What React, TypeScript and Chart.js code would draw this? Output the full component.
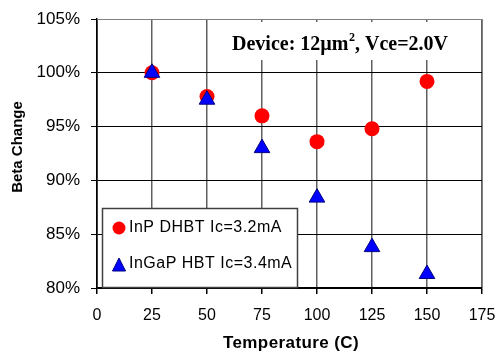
import React, { useEffect, useRef } from "react";
import { Chart, registerables } from "chart.js";

Chart.register(...registerables);

const temperatures = [25, 50, 75, 100, 125, 150];
const inpBeta = [100.0, 97.8, 96.0, 93.6, 94.8, 99.2];
const ingapBeta = [100.0, 97.5, 93.0, 88.4, 83.8, 81.3];
const seriesNames = ["InP DHBT Ic=3.2mA", "InGaP HBT Ic=3.4mA"];
const annotationParts = ["Device: 12\u00b5m", "2", ", Vce=2.0V"];
const xTitle = "Temperature (C)";
const yTitle = "Beta Change";

const SANS = "'Liberation Sans', Arial, sans-serif";
const SERIF = "'Liberation Serif', 'Times New Roman', serif";

const overlayPlugin = {
  id: "overlay",
  afterDatasetsDraw(chart: any) {
    const { ctx, chartArea } = chart;
    ctx.save();
    // top & right border (gray)
    ctx.strokeStyle = "#808080";
    ctx.lineWidth = 1;
    ctx.beginPath();
    ctx.moveTo(chartArea.left, chartArea.top + 0.5);
    ctx.lineTo(chartArea.right + 0.5, chartArea.top + 0.5);
    ctx.lineTo(chartArea.right + 0.5, chartArea.bottom);
    ctx.stroke();

    // annotation
    const ax = 232;
    const ay = 50;
    ctx.fillStyle = "#fff";
    ctx.fillRect(ax - 8, chartArea.top + 3, 236, 38);
    ctx.fillStyle = "#000";
    ctx.textBaseline = "alphabetic";
    ctx.textAlign = "left";
    ctx.font = "bold 20px " + SERIF;
    let x = ax;
    ctx.fillText(annotationParts[0], x, ay);
    x += ctx.measureText(annotationParts[0]).width;
    ctx.font = "bold 12px " + SERIF;
    ctx.fillText(annotationParts[1], x + 0.5, ay - 9);
    x += ctx.measureText(annotationParts[1]).width + 0.5;
    ctx.font = "bold 20px " + SERIF;
    ctx.fillText(annotationParts[2], x, ay);

    // legend
    const lx = 102;
    const ly = 208;
    const lw = 195;
    const lh = 79;
    ctx.fillStyle = "#fff";
    ctx.fillRect(lx, ly, lw, lh);
    ctx.strokeStyle = "#404040";
    ctx.lineWidth = 1.5;
    ctx.strokeRect(lx + 0.5, ly + 0.5, lw, lh);
    // circle
    ctx.fillStyle = "#ff0000";
    ctx.beginPath();
    ctx.arc(119, 228, 6.5, 0, Math.PI * 2);
    ctx.fill();
    // triangle
    ctx.fillStyle = "#0000ff";
    ctx.strokeStyle = "#000080";
    ctx.lineWidth = 1;
    ctx.beginPath();
    ctx.moveTo(119, 258);
    ctx.lineTo(125.5, 271);
    ctx.lineTo(112.5, 271);
    ctx.closePath();
    ctx.fill();
    ctx.stroke();
    ctx.fillStyle = "#000";
    ctx.font = "16px " + SANS;
    (ctx as any).letterSpacing = "0.5px";
    ctx.textBaseline = "middle";
    ctx.fillText(seriesNames[0], 129, 228);
    ctx.fillText(seriesNames[1], 129, 264);
    (ctx as any).letterSpacing = "0px";

    // axis titles
    ctx.font = "bold 17px " + SANS;
    ctx.textAlign = "center";
    (ctx as any).letterSpacing = "0.4px";
    ctx.fillText(xTitle, 291, 343);
    ctx.font = "bold 15px " + SANS;
    (ctx as any).letterSpacing = "0px";
    ctx.translate(18, 147);
    ctx.rotate(-Math.PI / 2);
    ctx.fillText(yTitle, 0, 0);
    ctx.restore();
  },
};

export default function App() {
  const ref = useRef<HTMLCanvasElement>(null);
  useEffect(() => {
    const canvas = ref.current!;
    const chart = new Chart(canvas, {
      type: "scatter",
      data: {
        datasets: [
          {
            label: seriesNames[0],
            data: temperatures.map((t, i) => ({ x: t, y: inpBeta[i] })),
            pointStyle: "circle",
            pointRadius: 7.5,
            backgroundColor: "#ff0000",
            borderColor: "#ff0000",
            borderWidth: 0,
            order: 2,
          },
          {
            label: seriesNames[1],
            data: temperatures.map((t, i) => ({ x: t, y: ingapBeta[i] })),
            pointStyle: "triangle",
            pointRadius: 9,
            backgroundColor: "#0000ff",
            borderColor: "#000080",
            borderWidth: 1,
            order: 1,
          },
        ],
      },
      options: {
        animation: false,
        responsive: false,
        layout: { padding: { top: 19, right: 18, left: 0, bottom: 0 } },
        plugins: { legend: { display: false }, tooltip: { enabled: false } },
        scales: {
          x: {
            type: "linear",
            min: 0,
            max: 175,
            ticks: {
              stepSize: 25,
              color: "#000",
              font: { size: 16, family: SANS },
              padding: 12,
              maxRotation: 0,
              autoSkip: false,
            },
            grid: {
              color: (c: any) => (c.tick && c.tick.value === 0 ? "#000" : "#606060"),
              lineWidth: 1.5,
              tickLength: 6,
              tickColor: "#000",
            },
            border: { color: "#000", width: 1.5 },
            title: { display: false },
            afterFit: (s: any) => {
              s.height = 66;
              s.paddingLeft = 0;
              s.paddingRight = 0;
            },
          },
          y: {
            type: "linear",
            min: 80,
            max: 105,
            ticks: {
              stepSize: 5,
              color: "#000",
              font: { size: 17, family: SANS },
              callback: (v: any) => v + "%",
              padding: 11,
            },
            grid: {
              color: (c: any) => (c.tick && c.tick.value === 105 ? "#808080" : "#000"),
              lineWidth: 1,
              tickLength: 6,
              tickColor: "#000",
            },
            border: { color: "#000", width: 1.5 },
            title: { display: false },
            afterFit: (s: any) => {
              s.width = 97;
              s.paddingTop = 0;
              s.paddingBottom = 0;
            },
          },
        },
      },
      plugins: [overlayPlugin],
    } as any);
    return () => chart.destroy();
  }, []);
  return (
    <div style={{ position: "fixed", left: 0, top: 0, width: 500, height: 354, background: "#fff" }}>
      <canvas ref={ref} width={500} height={354} style={{ width: 500, height: 354 }} />
    </div>
  );
}
